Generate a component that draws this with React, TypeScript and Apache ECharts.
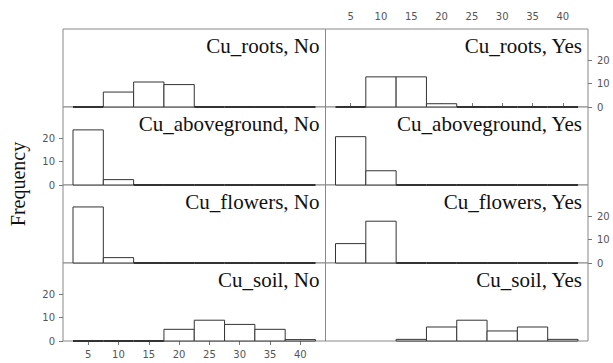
import React, { useEffect, useRef } from "react";
import * as echarts from "echarts";

// Histogram bins (width 5, centred on these values)
const binCenters = [5, 10, 15, 20, 25, 30, 35, 40];
const binWidth = 5;

// Panel conditioning variables
const variables = ["Cu_roots", "Cu_aboveground", "Cu_flowers", "Cu_soil"];
const groups = ["No", "Yes"];

// Frequencies per bin (null = bin not drawn)
const rootsNo = [0, 6.4, 10.7, 9.6, 0, 0, 0, 0];
const rootsYes = [0, 12.9, 12.9, 1.4, 0, 0, 0, 0];
const abovegroundNo = [23.6, 2.3, 0, 0, 0, 0, 0, 0];
const abovegroundYes = [20.7, 6.1, 0, 0, 0, 0, 0, 0];
const flowersNo = [24, 2.3, 0, 0, 0, 0, 0, 0];
const flowersYes = [8.3, 17.9, 0, 0, 0, 0, 0, 0];
const soilNo = [0, 0, 0, 5.0, 8.9, 7.1, 5.0, 0.6];
const soilYes = [null, null, 0.7, 6.0, 8.9, 4.3, 6.0, 0.7];

const panelValues: (number | null)[][][] = [
  [rootsNo, rootsYes],
  [abovegroundNo, abovegroundYes],
  [flowersNo, flowersYes],
  [soilNo, soilYes],
];

// Axis ticks
const xTicks = [5, 10, 15, 20, 25, 30, 35, 40];
const yTicks = [0, 10, 20];
const xRange = [0.85, 44.15];
const yRange = [0, 33.4];

const yTitle = "Frequency";

// Layout
const LEFT = 63;
const TOP = 29;
const PW = 262.5;
const PH = 78;

const tickFont = {
  color: "#555",
  fontSize: 10,
  fontFamily: "DejaVu Sans",
};

export default function App() {
  const ref = useRef<HTMLDivElement>(null);

  useEffect(() => {
    if (!ref.current) return;
    const chart = echarts.init(ref.current, null, { renderer: "svg" });

    const grid: any[] = [];
    const xAxis: any[] = [];
    const yAxis: any[] = [];
    const series: any[] = [];
    const graphic: any[] = [];

    variables.forEach((name, row) => {
      groups.forEach((g, col) => {
        const gi = row * 2 + col;
        const left = LEFT + col * PW;
        const top = TOP + row * PH;
        grid.push({
          left,
          top,
          width: PW,
          height: PH,
          show: true,
          backgroundColor: "#fff",
          borderColor: "#888",
          borderWidth: 1,
          containLabel: false,
          outerBoundsMode: "none",
        });

        const showBottom = row === 3 && col === 0;
        const showTop = row === 0 && col === 1;
        xAxis.push({
          type: "value",
          gridIndex: gi,
          min: xRange[0],
          max: xRange[1],
          position: showTop ? "top" : "bottom",
          show: showBottom || showTop,
          axisLine: { show: false },
          splitLine: { show: false },
          axisTick: {
            show: true,
            length: 4,
            lineStyle: { color: "#777" },
            customValues: xTicks,
          },
          axisLabel: { ...tickFont, margin: 8, customValues: xTicks },
        });

        const showY =
          (col === 0 && (row === 1 || row === 3)) ||
          (col === 1 && (row === 0 || row === 2));
        yAxis.push({
          type: "value",
          gridIndex: gi,
          min: yRange[0],
          max: yRange[1],
          position: col === 0 ? "left" : "right",
          show: showY,
          axisLine: { show: false },
          splitLine: { show: false },
          axisTick: {
            show: true,
            length: 4,
            lineStyle: { color: "#777" },
            customValues: yTicks,
          },
          axisLabel: { ...tickFont, margin: col === 0 ? 8 : 9, customValues: yTicks },
        });

        const vals = panelValues[row][col];
        const data: number[][] = [];
        vals.forEach((v, i) => {
          if (v === null) return;
          data.push([binCenters[i] - binWidth / 2, binCenters[i] + binWidth / 2, v]);
        });

        series.push({
          type: "custom",
          xAxisIndex: gi,
          yAxisIndex: gi,
          encode: { x: [0, 1], y: 2 },
          data,
          renderItem: (_params: any, api: any) => {
            const x0 = api.value(0);
            const x1 = api.value(1);
            const v = api.value(2);
            const p0 = api.coord([x0, 0]);
            const p1 = api.coord([x1, v]);
            if (!v) {
              return {
                type: "line",
                shape: { x1: p0[0], y1: p0[1], x2: p1[0], y2: p0[1] },
                style: { stroke: "#333", lineWidth: 2 },
              };
            }
            return {
              type: "rect",
              shape: {
                x: p0[0],
                y: p1[1],
                width: p1[0] - p0[0],
                height: p0[1] - p1[1],
              },
              style: { fill: "#fff", stroke: "#333", lineWidth: 1 },
            };
          },
        });

        // Strip label in the top-right corner of each panel
        graphic.push({
          type: "text",
          x: left + PW - 6,
          y: top + 17,
          z: 10,
          style: {
            text: `${name}, ${g}`,
            align: "right",
            verticalAlign: "middle",
            fontFamily: "serif",
            fontSize: 21,
            fill: "#111",
          },
        });
      });
    });

    graphic.push({
      type: "text",
      x: 18,
      y: 184,
      rotation: Math.PI / 2,
      style: {
        text: yTitle,
        align: "center",
        verticalAlign: "middle",
        fontFamily: "serif",
        fontSize: 20,
        fill: "#111",
      },
    });

    chart.setOption({
      animation: false,
      backgroundColor: "#fff",
      grid,
      xAxis,
      yAxis,
      series,
      graphic,
    });

    return () => chart.dispose();
  }, []);

  return (
    <div
      ref={ref}
      style={{ position: "fixed", left: 0, top: 0, width: 613, height: 363 }}
    />
  );
}
